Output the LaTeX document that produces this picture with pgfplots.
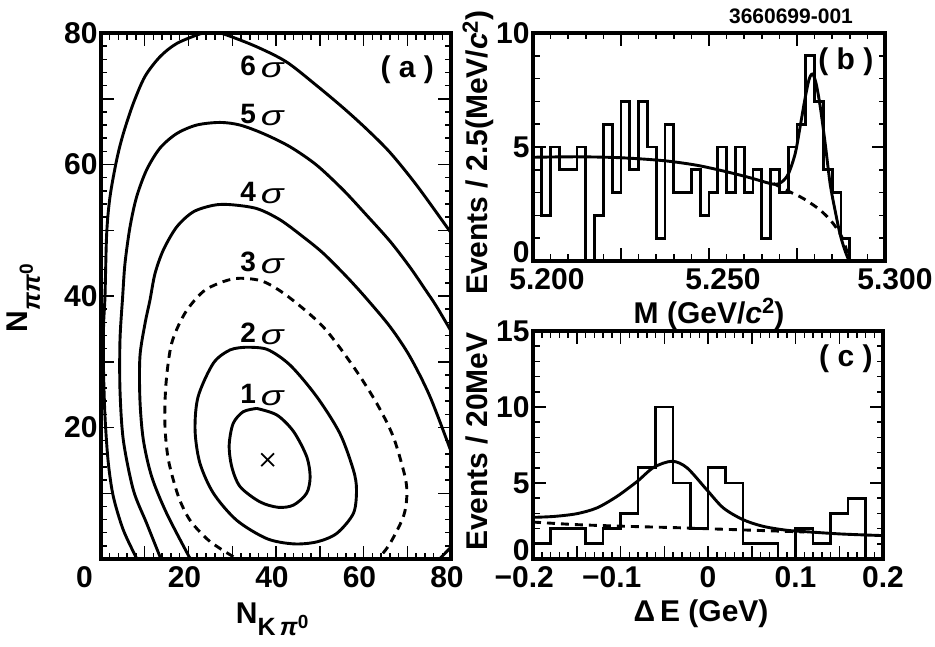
\documentclass[border=0pt]{standalone}
\usepackage{fontspec}
\setmainfont{Liberation Sans}
\newfontfamily\sigfont{Liberation Sans}[ItalicFeatures={FakeStretch=1.35}]
\usepackage{pgfplots}
\pgfplotsset{compat=1.18}

\newcommand{\bigfont}{\fontsize{30}{32}\selectfont\bfseries}
\newcommand{\sig}[1]{{\fontsize{28}{30}\selectfont #1}\,\raisebox{-2pt}{\fontsize{28}{28}\sigfont\mdseries\itshape σ}}
\newcommand{\Nsub}[1]{N\raisebox{-12pt}{\fontsize{25}{25}\selectfont\bfseries #1}\raisebox{-5pt}{\fontsize{19}{19}\selectfont\bfseries 0}}
\newcommand{\upnull}{\raisebox{9pt}[0.7em][0pt]{0}}

\pgfplotsset{
  hbook/.style={
    scale only axis,
    axis line style={line width=3.6pt},
    tick align=inside,
    tick style={black,line width=1.5pt},
    major tick length=13pt,
    minor tick length=6.5pt,
    tick label style={font=\bigfont},
    xticklabel style={yshift=-4pt},
    label style={font=\bigfont},
    every axis plot/.append style={line width=2.9pt,black},
  },
  contour/.style={smooth,tension=0.5,no markers},
  histo/.style={const plot,no markers,line width=2.7pt},
}

\begin{document}
\begin{tikzpicture}[x=1pt,y=1pt]
\useasboundingbox (0,0) rectangle (935,646);

% panel a: significance contours
\begin{axis}[hbook,at={(101pt,87pt)},width=350pt,height=526pt,
  xmin=0,xmax=80,ymin=0,ymax=80,
  xtick={0,10,...,80},xticklabels={\makebox[0pt][c]{\kern-25pt 0},,20,,40,,60,,80},
  ytick={0,10,...,80},yticklabels={,,20,,40,,60,,80},
  minor x tick num=4,minor y tick num=4,
  xticklabel style={xshift=-4pt},
  xlabel={\Nsub{K\,\textit{π}}},
  ylabel={\Nsub{\textit{π}\textit{π}}},
  xlabel style={at={(axis description cs:0.489,-0.1217)},anchor=base},
  ylabel style={at={(axis description cs:-0.2086,0.496)},anchor=base}]
\addplot[contour] coordinates {
  (8.15,0.1)(5.1,4.41)(2.82,9.48)(1.68,14.55)(1.0,20.6)(0.69,25.7)(0.53,30.8)(0.6,35.8)
  (0.91,39.9)(1.3,49.5)(2.06,55.1)(3.58,60.7)(5.1,64.7)(7.39,69.3)(10.06,73.4)(13.5,76.4)
  (17.3,78.4)(22.6,79.85)(25.6,80.2)(28.7,79.7)(35.6,77.9)(42.4,75.6)(49.3,72.0)(55.4,68.6)
  (60.7,65.4)(66.1,61.8)(72.2,56.8)(79.8,49.8)(80.5,49.2)};
\addplot[contour] coordinates {
  (13.64,0.1)(10.44,5.42)(7.39,10.5)(5.1,18.1)(4.34,25.7)(4.34,33.3)(4.95,39.9)(5.49,45)
  (6.63,50.5)(8.15,55.1)(10.44,59.2)(13.49,62.5)(17.3,64.7)(21.87,66)(27.2,66.4)(31.77,66)
  (37.1,64.7)(43.2,62.7)(49.3,59.9)(55.4,56.1)(60.7,52.3)(66.1,48.3)(70.6,44.4)(74,41.1)
  (76.7,38.4)(80.15,34.5)};
\addplot[contour] coordinates {
  (20.34,0.1)(15.0,6.95)(11.6,12.5)(9.68,18.1)(8.9,24.2)(8.9,30.8)(10.06,35.8)(11.2,39.4)
  (12.34,43.4)(14.25,47)(17.3,50.5)(21.1,52.8)(25.7,53.8)(29.5,53.9)(35.6,53.3)(40.9,51.6)
  (46.2,49)(50.8,46.5)(56.2,42.9)(60.7,39.6)(66.1,35.3)(70.6,30.8)(75.2,24.7)(80.15,16.1)};
\addplot[contour,dash pattern=on 8pt off 6pt] coordinates {
  (30.25,0.35)(27.2,1.6)(24.15,3.1)(20.34,5.9)(17.7,9.5)(15.4,15.1)(14.6,20.6)(14.86,26.7)
  (16.15,32.8)(19.2,37.4)(23.4,40.7)(28,42.2)(31.8,42.7)(37.1,42.2)(42.8,39.9)
  (50.8,35.3)(57.7,29.25)(63,23.7)(66.8,18.6)(69.5,12.5)(69.9,9.5)(69.1,6.4)(66.1,2.4)(63.8,0.35)};
\addplot[contour] coordinates {
  (32.9,32.2)(37.9,31.9)(43.2,29.5)(49.3,24.7)(54.6,19.1)(57.7,13.5)(58.4,10.5)(57.7,6.95)
  (53.9,3.9)(49.3,2.6)(44,2.3)(37.9,3.1)(31,5.9)(25.7,10)(22.6,14.6)(21.5,19.6)(22.2,24.7)
  (25.7,29.8)(29.5,31.8)(32.9,32.2)};
\addplot[contour] coordinates {
  (35.6,22.9)(40.2,21.9)(44,19.4)(47,15.6)(47.8,12.5)(47,10)(44,8.2)(40.5,7.86)(36.3,8.7)
  (31.8,11)(29.9,14)(29.3,17.3)(30.2,20.6)(32.5,22.4)(35.6,22.9)};
\addplot[no markers] coordinates {(77.5,0.1)(80.15,1.9)};
\addplot[only marks,mark=x,mark size=9pt,mark options={line width=1.8pt}] coordinates {(38.1,15.1)};
\node[font=\bigfont] at (axis cs:36.8,74.8) {\sig{6}};
\node[font=\bigfont] at (axis cs:36.8,67.5) {\sig{5}};
\node[font=\bigfont] at (axis cs:36.8,55.7) {\sig{4}};
\node[font=\bigfont] at (axis cs:36.8,45.0) {\sig{3}};
\node[font=\bigfont] at (axis cs:36.8,34.3) {\sig{2}};
\node[font=\bigfont] at (axis cs:36.8,25.0) {\sig{1}};
\node[font=\bigfont] at (axis cs:70,74.4) {( a )};
\end{axis}

% panel b: mass histogram, 2.5 MeV bins
\begin{axis}[hbook,at={(533pt,385pt)},width=352pt,height=228pt,
  xmin=5.2,xmax=5.3,ymin=0,ymax=10,
  xtick={5.2,5.225,5.25,5.275,5.3},xticklabels={5.200,,5.250,,\kern-8pt 5.300},
  ytick={0,5,10},yticklabels={\upnull,5,10},
  minor x tick num=4,minor y tick num=4,
  xticklabel style={xshift=14pt},
  xlabel={M (GeV/\textit{c}\raisebox{10pt}{\fontsize{22}{22}\selectfont 2})},
  ylabel={Events / 2.5(MeV/\textit{c}\raisebox{10pt}{\fontsize{22}{22}\selectfont 2})},
  xlabel style={at={(axis description cs:0.5,-0.272)},anchor=base},
  ylabel style={at={(axis description cs:-0.128,0.474)},anchor=base}]
\addplot[histo] coordinates {
  (5.2000,5)(5.2025,2)(5.2050,5)(5.2075,4)(5.2100,4)(5.2125,5)(5.2150,0)(5.2175,2)
  (5.2200,6)(5.2225,3)(5.2250,7)(5.2275,4)(5.2300,7)(5.2325,5)(5.2350,1)(5.2375,6)
  (5.2400,3)(5.2425,3)(5.2450,4)(5.2475,2)(5.2500,3)(5.2525,5)(5.2550,3)(5.2575,5)
  (5.2600,3)(5.2625,4)(5.2650,1)(5.2675,4)(5.2700,3)(5.2725,5)(5.2750,6)(5.2775,9)
  (5.2800,7)(5.2825,4)(5.2850,3)(5.2875,1)(5.2900,0)(5.3000,0)};
\addplot[contour] coordinates {
  (5.2,4.55)(5.2125,4.57)(5.2248,4.53)(5.2371,4.4)(5.2465,4.2)(5.2551,3.91)(5.2617,3.65)
  (5.2683,3.37)(5.2707,3.47)(5.2726,3.84)(5.2745,4.72)(5.2759,5.9)(5.2773,7.14)(5.2784,7.95)
  (5.2794,8.2)(5.2804,7.8)(5.2816,6.77)(5.283,5.16)(5.2844,3.4)(5.2858,2.23)(5.2872,1.2)
  (5.2886,0.47)(5.2898,0)};
\addplot[contour,dash pattern=on 8pt off 6pt] coordinates {
  (5.2683,3.4)(5.273,3.03)(5.2768,2.74)(5.2816,2.23)(5.2853,1.64)(5.2882,0.91)(5.2898,0)};
\node[font=\bigfont] at (rel axis cs:0.889,0.873) {( b )};
\end{axis}

% panel c: energy difference histogram, 20 MeV bins
\begin{axis}[hbook,at={(533pt,87pt)},width=350pt,height=228pt,
  xmin=-0.2,xmax=0.2,ymin=0,ymax=15,
  xtick={-0.2,-0.15,...,0.2},xticklabels={\llap{−}0.2,,\llap{−}0.1,,0,,0.1,,0.2},
  ytick={0,5,10,15},yticklabels={\upnull,5,10,15},
  minor x tick num=4,minor y tick num=4,
  xlabel={Δ\,E (GeV)},
  ylabel={Events / 20MeV},
  xlabel style={at={(axis description cs:0.48,-0.276)},anchor=base},
  ylabel style={at={(axis description cs:-0.1286,0.515)},anchor=base}]
\addplot[histo] coordinates {
  (-0.20,1)(-0.18,2)(-0.16,2)(-0.14,1)(-0.12,2)(-0.10,3)(-0.08,6)(-0.06,10)(-0.04,5)(-0.02,2)
  (0.00,6)(0.02,5)(0.04,1)(0.06,1)(0.08,0)(0.10,2)(0.12,1)(0.14,3)(0.16,4)(0.18,0)(0.20,0)};
\addplot[contour] coordinates {
  (-0.2,2.74)(-0.176,2.8)(-0.15,2.98)(-0.127,3.36)(-0.104,4.12)(-0.081,5.1)(-0.062,6.03)
  (-0.041,6.43)(-0.024,6)(-0.0015,4.56)(0.0175,3.36)(0.04,2.59)(0.063,2.15)(0.09,1.89)
  (0.116,1.78)(0.154,1.64)(0.2,1.54)};
\addplot[contour,dash pattern=on 8pt off 6pt] coordinates {
  (-0.2,2.43)(-0.15,2.26)(-0.093,2.15)(-0.036,2.06)(0.021,1.95)(0.078,1.84)(0.11,1.78)};
\node[font=\bigfont] at (rel axis cs:0.894,0.877) {( c )};
\end{axis}

\node[font=\fontsize{21}{22}\selectfont\bfseries] at (791,630) {3660699-001};
\end{tikzpicture}
\end{document}
